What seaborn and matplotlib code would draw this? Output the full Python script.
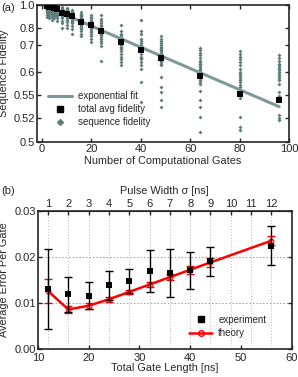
import numpy as np
import pandas as pd
import seaborn as sns
import matplotlib
matplotlib.use("Agg")
import matplotlib.pyplot as plt
from matplotlib.lines import Line2D

# ---------- panel (a) data ----------
gate_counts = [2, 3, 4, 5, 6, 8, 10, 12, 16, 20, 24, 32, 40, 48, 64, 80, 96]
avg_fidelity = [0.986, 0.978, 0.972, 0.965, 0.958, 0.918, 0.911, 0.888, 0.843,
                0.816, 0.777, 0.715, 0.677, 0.645, 0.590, 0.552, 0.5425]
seq_fidelity = [
    [1.0, 0.995, 0.99, 0.985, 0.98, 0.975, 0.97, 0.965, 0.96, 0.955, 0.95, 0.94, 0.93, 0.92, 0.90, 0.88],
    [0.995, 0.99, 0.985, 0.98, 0.97, 0.965, 0.96, 0.95, 0.945, 0.94, 0.93, 0.92, 0.91, 0.89, 0.87],
    [0.995, 0.99, 0.98, 0.975, 0.97, 0.96, 0.955, 0.95, 0.94, 0.93, 0.92, 0.91, 0.90, 0.88, 0.86],
    [0.99, 0.985, 0.98, 0.97, 0.96, 0.955, 0.95, 0.94, 0.935, 0.93, 0.92, 0.91, 0.90, 0.89, 0.87],
    [0.99, 0.98, 0.975, 0.97, 0.96, 0.95, 0.945, 0.94, 0.93, 0.92, 0.91, 0.90, 0.89, 0.875, 0.85],
    [0.975, 0.965, 0.955, 0.945, 0.94, 0.93, 0.925, 0.92, 0.91, 0.905, 0.90, 0.89, 0.88, 0.87, 0.85, 0.83, 0.80],
    [0.97, 0.96, 0.95, 0.94, 0.935, 0.93, 0.92, 0.915, 0.91, 0.90, 0.89, 0.88, 0.87, 0.86, 0.84, 0.82, 0.80],
    [0.95, 0.94, 0.93, 0.92, 0.91, 0.90, 0.895, 0.89, 0.88, 0.87, 0.86, 0.85, 0.84, 0.83, 0.81, 0.79, 0.76],
    [0.925, 0.91, 0.90, 0.89, 0.88, 0.87, 0.865, 0.86, 0.85, 0.845, 0.84, 0.835, 0.83, 0.82, 0.81, 0.80, 0.79, 0.775, 0.76, 0.748],
    [0.90, 0.885, 0.87, 0.86, 0.85, 0.84, 0.83, 0.825, 0.82, 0.81, 0.80, 0.795, 0.79, 0.78, 0.77, 0.76, 0.745, 0.73, 0.715],
    [0.895, 0.865, 0.85, 0.835, 0.82, 0.81, 0.80, 0.79, 0.785, 0.78, 0.77, 0.76, 0.755, 0.75, 0.74, 0.73, 0.72, 0.71, 0.695, 0.633],
    [0.82, 0.78, 0.758, 0.75, 0.74, 0.735, 0.73, 0.725, 0.72, 0.715, 0.71, 0.705, 0.70, 0.69, 0.685, 0.68, 0.67, 0.66, 0.65, 0.64, 0.63, 0.62],
    [0.86, 0.78, 0.758, 0.73, 0.72, 0.71, 0.70, 0.695, 0.69, 0.68, 0.675, 0.67, 0.66, 0.65, 0.645, 0.64, 0.63, 0.62, 0.61, 0.575, 0.539],
    [0.745, 0.73, 0.72, 0.71, 0.70, 0.69, 0.685, 0.68, 0.675, 0.67, 0.665, 0.66, 0.655, 0.65, 0.645, 0.64, 0.635, 0.63, 0.625, 0.62, 0.587, 0.565, 0.555, 0.543, 0.533],
    [0.685, 0.675, 0.665, 0.655, 0.645, 0.635, 0.63, 0.625, 0.62, 0.615, 0.61, 0.605, 0.60, 0.595, 0.59, 0.585, 0.58, 0.575, 0.572, 0.558, 0.543, 0.532, 0.521, 0.507],
    [0.67, 0.66, 0.65, 0.64, 0.63, 0.62, 0.61, 0.60, 0.595, 0.59, 0.585, 0.58, 0.575, 0.57, 0.565, 0.56, 0.555, 0.55, 0.545, 0.521, 0.511, 0.509],
    [0.655, 0.645, 0.635, 0.625, 0.62, 0.615, 0.61, 0.605, 0.60, 0.595, 0.59, 0.585, 0.58, 0.572, 0.555, 0.548, 0.543, 0.523, 0.52, 0.518],
]
fit_n = [1, 96]
fit_F = [0.99, 0.533]
fid_ticks = [0.5, 0.52, 0.55, 0.6, 0.7, 0.8, 1.0]
fid_ticklabels = ["0.5", "0.52", "0.55", "0.6", "0.7", "0.8", "1.0"]
fid_offset = 0.47

# ---------- panel (b) data ----------
gate_length = [12, 16, 20, 24, 28, 32, 36, 40, 44, 56]
exp_err = [0.0130, 0.0120, 0.0116, 0.0138, 0.0147, 0.0169, 0.0164, 0.0171, 0.0190, 0.0224]
exp_lo = [0.0044, 0.0081, 0.0087, 0.0106, 0.0121, 0.0124, 0.0112, 0.0130, 0.0158, 0.0182]
exp_hi = [0.0216, 0.0156, 0.0146, 0.0170, 0.0174, 0.0215, 0.0217, 0.0210, 0.0222, 0.0266]
theo_err = [0.0126, 0.0086, 0.0094, 0.0108, 0.0124, 0.0140, 0.0156, 0.0172, 0.0188, 0.0235]
theo_sd = [0.0025, 0.0008, 0.0006, 0.0005, 0.0005, 0.0006, 0.0007, 0.0009, 0.0009, 0.0010]
pulse_width = [1, 2, 3, 4, 5, 6, 7, 8, 9, 10, 11, 12]

sns.set_style("ticks")
plt.rcParams["font.family"] = ["Liberation Sans", "DejaVu Sans"]
plt.rcParams["font.size"] = 8
plt.rcParams["xtick.direction"] = "in"
plt.rcParams["ytick.direction"] = "in"

fig = plt.figure(figsize=(2.98, 3.77), dpi=100)
ax1 = fig.add_axes([0.124, 0.623, 0.846, 0.364])
ax2 = fig.add_axes([0.127, 0.074, 0.852, 0.367])

teal = "#7d9999"
dots = "#5e7c7c"
tick_fs = 8
label_fs = 7.8

# panel (a)
seq = pd.DataFrame({
    "n": [n for n, vals in zip(gate_counts, seq_fidelity) for _ in vals],
    "F": [v for vals in seq_fidelity for v in vals],
})
ax1.set_yscale("function", functions=(lambda f: np.log10(np.clip(f - fid_offset, 1e-6, None)),
                                      lambda y: 10 ** y + fid_offset))
sns.scatterplot(data=seq, x="n", y="F", marker="D", s=4, color=dots, linewidth=0, ax=ax1)
sns.lineplot(x=fit_n, y=fit_F, color=teal, lw=2.2, ax=ax1)
sns.scatterplot(x=gate_counts, y=avg_fidelity, marker="s", s=20, color="black", linewidth=0, ax=ax1, zorder=5)
ax1.set_xlim(-2, 100)
ax1.set_ylim(0.5, 1.0)
ax1.set_yticks(fid_ticks)
ax1.set_yticklabels(fid_ticklabels)
ax1.yaxis.set_minor_locator(matplotlib.ticker.NullLocator())
ax1.set_xticks([0, 20, 40, 60, 80, 100])
ax1.tick_params(top=True, right=True, length=3, width=1, labelsize=tick_fs, pad=1.5)
ax1.set_xlabel("Number of Computational Gates", fontsize=label_fs, labelpad=1)
ax1.set_ylabel("Sequence Fidelity", fontsize=label_fs)
ax1.yaxis.set_label_coords(-0.112, 0.5)
for s in ax1.spines.values():
    s.set_linewidth(1.2)
h1 = [Line2D([], [], color=teal, lw=2.2),
      Line2D([], [], marker="s", color="black", ls="", ms=5),
      Line2D([], [], marker="D", color=dots, ls="", ms=3)]
ax1.legend(h1, ["exponential fit", "total avg fidelity", "sequence fidelity"], loc="lower left",
           bbox_to_anchor=(0.03, 0.08), frameon=False, fontsize=7, handlelength=2.4,
           handletextpad=0.6, labelspacing=0.3, borderaxespad=0)
fig.text(0.005, 0.978, "(a)", fontsize=tick_fs, va="center")

# panel (b)
for g in [12, 16, 20, 24, 28, 32, 36, 40, 44, 48, 52, 56]:
    ax2.axvline(g, color="#b8b8b8", lw=0.7, ls=(0, (1, 2)), zorder=0)
for yv in [0.01, 0.02]:
    ax2.axhline(yv, color="#9a9a9a", lw=0.7, ls=(0, (1.5, 2)), zorder=0)
ax2.errorbar(gate_length, theo_err, yerr=theo_sd, fmt="none", ecolor="red", elinewidth=1.0, capsize=3, zorder=3)
sns.lineplot(x=gate_length, y=theo_err, color="red", lw=1.8, marker="o", ms=3.5, mfc="none",
             mec="red", ax=ax2, zorder=4)
ax2.errorbar(gate_length, exp_err,
             yerr=[np.subtract(exp_err, exp_lo), np.subtract(exp_hi, exp_err)],
             fmt="none", ecolor="black", elinewidth=1.0, capsize=3, zorder=5)
sns.scatterplot(x=gate_length, y=exp_err, marker="s", s=18, color="black", linewidth=0, ax=ax2, zorder=6)
ax2.set_xlim(10, 60)
ax2.set_ylim(0, 0.03)
ax2.set_xticks([10, 20, 30, 40, 50, 60])
ax2.set_yticks([0, 0.01, 0.02, 0.03])
ax2.set_yticklabels(["0.00", "0.01", "0.02", "0.03"])
ax2.tick_params(right=True, length=3, width=1, labelsize=tick_fs, pad=1.5)
ax2.tick_params(axis="x", pad=3)
ax2.set_xlabel("Total Gate Length [ns]", fontsize=label_fs, labelpad=0)
ax2.set_ylabel("Average Error Per Gate", fontsize=label_fs)
ax2.yaxis.set_label_coords(-0.112, 0.5)
for s in ax2.spines.values():
    s.set_linewidth(1.2)
top = ax2.secondary_xaxis("top", functions=(lambda x: (x - 8) / 4, lambda p: 4 * p + 8))
top.set_xticks(pulse_width)
top.tick_params(direction="in", length=3, width=1, labelsize=tick_fs, pad=1.5)
top.set_xlabel("Pulse Width σ [ns]", fontsize=label_fs, labelpad=3)
h2 = [Line2D([], [], marker="s", color="black", ls="", ms=5),
      Line2D([], [], color="red", lw=1.8, marker="o", ms=4, mfc="none", mec="red")]
ax2.legend(h2, ["experiment", "theory"], loc="lower left", bbox_to_anchor=(0.58, 0.05),
           frameon=False, fontsize=7, handlelength=2.4, handletextpad=0.6, labelspacing=0.35,
           borderaxespad=0)
fig.text(0.005, 0.493, "(b)", fontsize=tick_fs, va="center")

fig.savefig("out.png", dpi=100)
